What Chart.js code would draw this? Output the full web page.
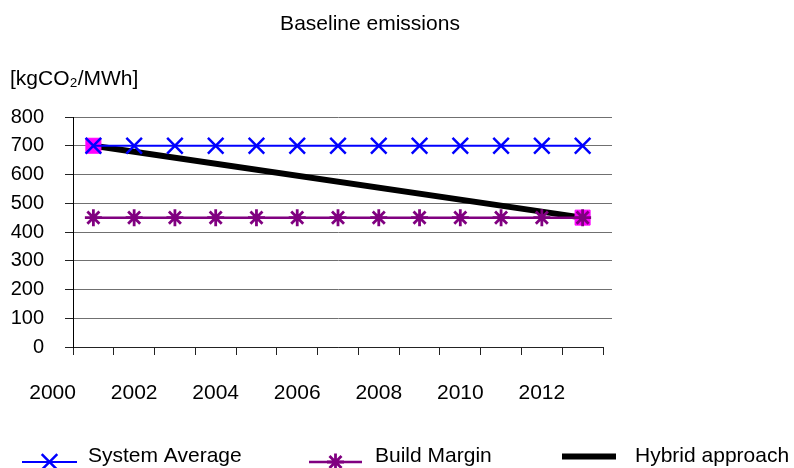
<!DOCTYPE html>
<html>
<head>
<meta charset="utf-8">
<title>Baseline emissions</title>
<script src="https://cdn.jsdelivr.net/npm/chart.js@4/dist/chart.umd.min.js"></script>
<style>
  html, body { margin: 0; padding: 0; background: #ffffff; }
  #wrap { width: 794px; height: 468px; }
</style>
</head>
<body>
<div id="wrap"><canvas id="chart" width="794" height="468"></canvas></div>
<script>
// Years on the horizontal axis (one point per year)
const years = [2001, 2002, 2003, 2004, 2005, 2006, 2007, 2008, 2009, 2010, 2011, 2012, 2013];
// Emission factors in kgCO2/MWh
const systemAverage = [700, 700, 700, 700, 700, 700, 700, 700, 700, 700, 700, 700, 700];
const buildMargin   = [450, 450, 450, 450, 450, 450, 450, 450, 450, 450, 450, 450, 450];
// Hybrid approach: straight transition between the two endpoints
const hybridYears  = [2001, 2013];
const hybridValues = [700, 450];
// Year labels printed under the axis
const yearLabels = [2000, 2002, 2004, 2006, 2008, 2010, 2012];
// Tick marks on the year axis sit between the yearly points
const yearBoundaries = [2000.5, 2001.5, 2002.5, 2003.5, 2004.5, 2005.5, 2006.5, 2007.5, 2008.5, 2009.5, 2010.5, 2011.5, 2012.5, 2013.5];

const seriesNames = ['System Average', 'Build Margin', 'Hybrid approach'];
const chartTitle = 'Baseline emissions';
const unitLabel = '[kgCO\u2082/MWh]';

const FONT = "'Liberation Sans', Arial, Helvetica, sans-serif";
Chart.defaults.font.family = FONT;
Chart.defaults.color = '#000000';

const GRID = '#707070';
const AXIS = '#222222';

const toPoints = (xs, ys) => xs.map((x, i) => ({ x: x, y: ys[i] }));

// Title and unit caption above the plot
const headingPlugin = {
  id: 'headings',
  afterDraw(chart) {
    const ctx = chart.ctx;
    ctx.save();
    ctx.fillStyle = '#000';
    ctx.font = '21px ' + FONT;
    ctx.textBaseline = 'alphabetic';
    ctx.textAlign = 'center';
    ctx.fillText(chartTitle, 370, 30);
    ctx.textAlign = 'left';
    ctx.fillText(unitLabel, 10, 85);
    ctx.restore();
  }
};

// Series key along the bottom: sample line, marker and name
const keyPlugin = {
  id: 'seriesKey',
  afterDraw(chart) {
    const ctx = chart.ctx;
    const keyX = [22, 309, 562];
    const textX = [88, 375, 635];
    const lineY = [462, 462, 456.5];
    const sampleLen = [55, 53, 54];
    ctx.save();
    chart.data.datasets.forEach((ds, i) => {
      const x0 = keyX[i];
      const y = lineY[i];
      ctx.strokeStyle = ds.borderColor;
      ctx.lineWidth = ds.borderWidth;
      ctx.lineCap = 'butt';
      ctx.beginPath();
      ctx.moveTo(x0, y);
      ctx.lineTo(x0 + sampleLen[i], y);
      ctx.stroke();
      if (ds.keyMarker) {
        ctx.strokeStyle = ds.pointBorderColor;
        ctx.fillStyle = ds.pointBackgroundColor;
        ctx.lineWidth = ds.pointBorderWidth;
        Chart.helpers.drawPoint(ctx, {
          pointStyle: ds.pointStyle,
          radius: ds.pointRadius,
          rotation: 0,
          borderWidth: ds.pointBorderWidth
        }, x0 + sampleLen[i] / 2, y);
      }
      ctx.fillStyle = '#000';
      ctx.font = '21px ' + FONT;
      ctx.textAlign = 'left';
      ctx.textBaseline = 'alphabetic';
      ctx.fillText(ds.label, textX[i], 462);
    });
    ctx.restore();
  }
};

new Chart(document.getElementById('chart'), {
  type: 'line',
  data: {
    datasets: [
      {
        label: seriesNames[0],
        data: toPoints(years, systemAverage),
        borderColor: '#0000FF',
        borderWidth: 2,
        pointStyle: 'crossRot',
        pointRadius: 11,
        pointBorderWidth: 2.5,
        pointBorderColor: '#0000FF',
        pointBackgroundColor: '#0000FF',
        keyMarker: true,
        order: 1
      },
      {
        label: seriesNames[1],
        data: toPoints(years, buildMargin),
        borderColor: '#800080',
        borderWidth: 2.5,
        pointStyle: 'star',
        pointRadius: 8.5,
        pointBorderWidth: 2.8,
        pointBorderColor: '#800080',
        pointBackgroundColor: '#800080',
        keyMarker: true,
        order: 2
      },
      {
        label: seriesNames[2],
        data: toPoints(hybridYears, hybridValues),
        borderColor: '#000000',
        borderWidth: 6,
        pointStyle: 'rect',
        pointRadius: 10.6,
        pointBorderWidth: 1,
        pointBorderColor: '#FF00FF',
        pointBackgroundColor: '#FF00FF',
        keyMarker: false,
        order: 3
      }
    ]
  },
  options: {
    responsive: false,
    animation: false,
    devicePixelRatio: 1,
    layout: { padding: { top: 117, left: 0, right: 0, bottom: 0 } },
    plugins: {
      legend: { display: false },
      title: { display: false },
      tooltip: { enabled: false }
    },
    elements: {
      line: { tension: 0, fill: false },
      point: { hoverRadius: 0 }
    },
    scales: {
      x: {
        type: 'linear',
        position: 'bottom',
        min: 2000.5,
        max: 2013.5,
        afterBuildTicks: s => { s.ticks = yearBoundaries.map(v => ({ value: v })); },
        afterFit: s => { s.height = 8; s.paddingLeft = 0; s.paddingRight = 0; },
        ticks: { display: false },
        grid: { drawOnChartArea: false, drawTicks: true, tickLength: 8, color: AXIS, tickColor: AXIS },
        border: { display: true, color: AXIS, width: 1 }
      },
      xYears: {
        type: 'linear',
        position: 'bottom',
        min: 2000.5,
        max: 2013.5,
        afterBuildTicks: s => { s.ticks = yearLabels.map(v => ({ value: v })); },
        afterFit: s => { s.height = 113; s.paddingLeft = 0; s.paddingRight = 0; },
        ticks: {
          autoSkip: false,
          maxRotation: 0,
          minRotation: 0,
          padding: 26,
          font: { size: 21 },
          callback: v => String(v)
        },
        grid: { display: false, drawTicks: false },
        border: { display: false }
      },
      y: {
        type: 'linear',
        position: 'left',
        min: 0,
        max: 800,
        afterFit: s => { s.width = 73; },
        ticks: { stepSize: 100, padding: 21, font: { size: 20 } },
        grid: { color: GRID, tickLength: 8, tickColor: AXIS, lineWidth: 1 },
        border: { display: true, color: '#000', width: 1 }
      },
      yRight: {
        type: 'linear',
        position: 'right',
        min: 0,
        max: 800,
        afterFit: s => { s.width = 191; },
        ticks: { stepSize: 100, display: false },
        grid: {
          drawOnChartArea: false,
          drawTicks: true,
          tickLength: 9,
          color: GRID,
          tickColor: c => (c.tick && c.tick.value === 0 ? 'rgba(0,0,0,0)' : GRID)
        },
        border: { display: false }
      }
    }
  },
  plugins: [headingPlugin, keyPlugin]
});
</script>
</body>
</html>
